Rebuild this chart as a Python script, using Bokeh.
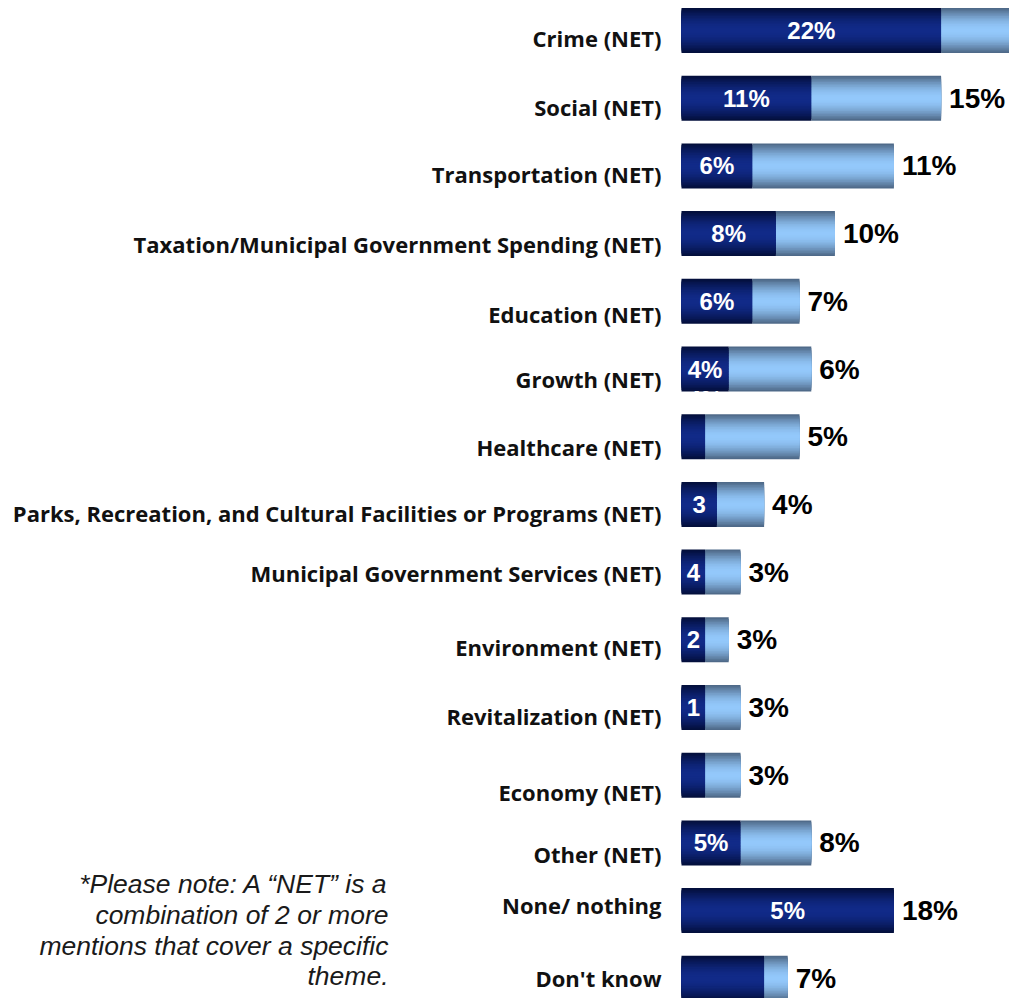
import numpy as np
from bokeh.plotting import figure
from bokeh.models import ColumnDataSource, Range1d
from bokeh.core.properties import value
from bokeh.embed import file_html
from bokeh.resources import INLINE

# ---------------- data ----------------
categories = [
    "Crime (NET)",
    "Social (NET)",
    "Transportation (NET)",
    "Taxation/Municipal Government Spending (NET)",
    "Education (NET)",
    "Growth (NET)",
    "Healthcare (NET)",
    "Parks, Recreation, and Cultural Facilities or Programs (NET)",
    "Municipal Government Services (NET)",
    "Environment (NET)",
    "Revitalization (NET)",
    "Economy (NET)",
    "Other (NET)",
    "None/ nothing",
    "Don't know",
]
first_mention = [22, 11, 6, 8, 6, 4, 2, 3, 2, 2, 2, 2, 5, 18, 7]
total_mentions = [30, 22, 18, 13, 10, 11, 10, 7, 5, 4, 5, 5, 11, 18, 9]
inner_labels = ["22%", "11%", "6%", "8%", "6%", "4%", "", "3", "4", "2", "1", "", "5%", "5%", ""]
total_labels = ["", "15%", "11%", "10%", "7%", "6%", "5%", "4%", "3%", "3%", "3%", "3%", "8%", "18%", "7%"]
footnote_lines = [
    "*Please note: A \u201cNET\u201d is a",
    "combination of 2 or more",
    "mentions that cover a specific",
    "theme.",
]

# ---------------- layout / style ----------------
W, H = 1009, 998
PX_PER_UNIT = 11.8      # horizontal pixels per percentage point
ROW_PX = 67.7           # vertical pixels per row
X0_PX = 681             # pixel position of the bar baseline
TOP0_PX = 30            # pixel centre of the first row
BAR_H = 0.665
label_nudge_px = [7, 9, 8, 10, 13, 10, 10, 9, 1, 7, 8, 17, 11, -6, 0]

n = len(categories)
idx = np.arange(n, dtype=float)

p = figure(
    width=W, height=H,
    x_range=Range1d(-X0_PX / PX_PER_UNIT, (W - X0_PX) / PX_PER_UNIT),
    y_range=Range1d((H - TOP0_PX) / ROW_PX, -TOP0_PX / ROW_PX),
    output_backend="svg", toolbar_location=None,
    x_axis_location=None, y_axis_location=None,
    min_border=0,
)
p.grid.visible = False
p.outline_line_color = None
p.background_fill_color = "white"
p.border_fill_color = "white"


def mix(c1, c2, f):
    a = np.array([int(c1[i:i + 2], 16) for i in (1, 3, 5)], dtype=float)
    b = np.array([int(c2[i:i + 2], 16) for i in (1, 3, 5)], dtype=float)
    c = a + (b - a) * f
    return "#%02x%02x%02x" % tuple(int(round(v)) for v in c)


DARK_EDGE, DARK_MID = "#020d38", "#112a88"
LIGHT_EDGE, LIGHT_MID = "#4b6482", "#93c8fb"

first = np.array(first_mention, dtype=float)
total = np.array(total_mentions, dtype=float)
src = ColumnDataSource(dict(y=idx, first=first, total=total))

# vertical gradient: nested bars from the outer edge towards the centre
N = 14
for k in range(N):
    d = 1.0 - k / N                     # half-height fraction of this layer
    f = np.cos(np.pi / 2 * max(d - 0.5 / N, 0.0))
    hh = BAR_H * d
    p.hbar(y="y", left="first", right="total", height=hh, source=src,
           fill_color=mix(LIGHT_EDGE, LIGHT_MID, f), line_color=None)
    p.hbar(y="y", left=0, right="first", height=hh, source=src,
           fill_color=mix(DARK_EDGE, DARK_MID, f), line_color=None)

# category labels
cat_src = ColumnDataSource(dict(
    x=np.zeros(n), y=idx + np.array(label_nudge_px) / ROW_PX, text=categories))
p.text(x="x", y="y", text="text", source=cat_src, x_offset=-20,
       text_align="right", text_baseline="middle",
       text_font=value("Open Sans"), text_font_style="bold",
       text_font_size="22px", text_color="#111111")

# inner labels (first mention)
keep = [i for i, s in enumerate(inner_labels) if s]
in_src = ColumnDataSource(dict(
    x=[first[i] / 2 for i in keep], y=[idx[i] for i in keep],
    text=[inner_labels[i] for i in keep]))
p.text(x="x", y="y", text="text", source=in_src,
       text_align="center", text_baseline="middle",
       text_font=value("Liberation Sans"), text_font_style="bold",
       text_font_size="24px", text_color="white")

# stray duplicate label peeking under the Growth bar
g = categories.index("Growth (NET)")
p.text(x=[first[g] / 2], y=[idx[g] + 30 / ROW_PX], text=[inner_labels[g]],
       text_align="center", text_baseline="middle",
       text_font=value("Liberation Sans"), text_font_style="bold",
       text_font_size="24px", text_color="white")

# total labels
keep = [i for i, s in enumerate(total_labels) if s]
tot_src = ColumnDataSource(dict(
    x=[total[i] for i in keep], y=[idx[i] for i in keep],
    text=[total_labels[i] for i in keep]))
p.text(x="x", y="y", text="text", source=tot_src, x_offset=8,
       text_align="left", text_baseline="middle",
       text_font=value("Liberation Sans"), text_font_style="bold",
       text_font_size="28px", text_color="black")

# footnote
nn = categories.index("None/ nothing")
fn_off_px = [-27, 4, 35, 65]
fn_src = ColumnDataSource(dict(
    x=np.zeros(len(footnote_lines)),
    y=[nn + o / ROW_PX for o in fn_off_px],
    text=footnote_lines))
p.text(x="x", y="y", text="text", source=fn_src, x_offset=-293,
       text_align="right", text_baseline="middle",
       text_font=value("Liberation Sans"), text_font_style="italic",
       text_font_size="26.5px", text_color="#1a1a1a")

open("out.html", "w").write(file_html(p, INLINE))
